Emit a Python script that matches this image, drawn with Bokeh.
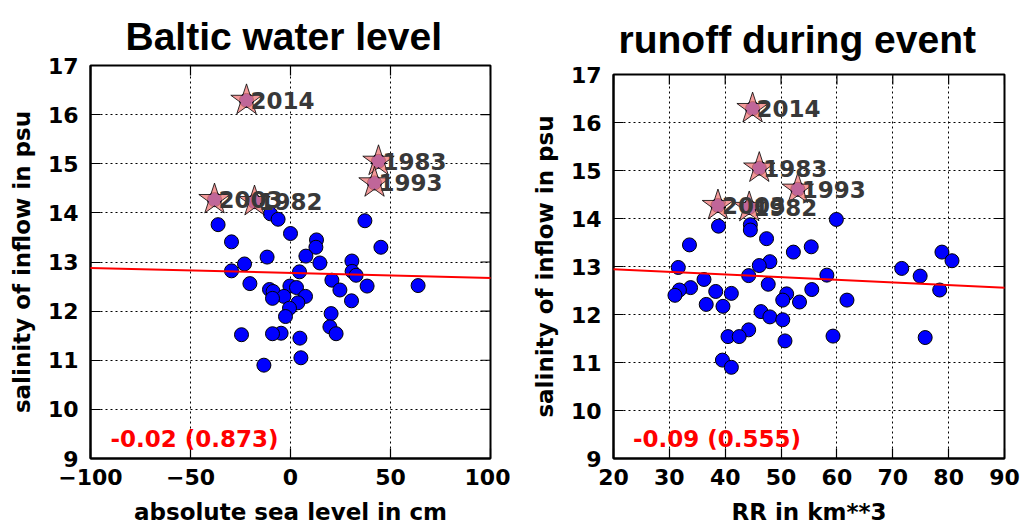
import math

from bokeh.plotting import figure
from bokeh.layouts import row
from bokeh.models import Slope, Label, FixedTicker, Range1d
from bokeh.core.properties import value
from bokeh.embed import file_html
from bokeh.resources import INLINE

# inflow events: salinity (psu), absolute sea level (cm), runoff RR (km**3)
salinity = [13.98, 13.87, 13.84, 13.76, 13.58, 13.45, 13.41, 13.30, 13.30, 13.12,
            13.10, 13.02, 12.98, 12.96, 12.82, 12.81, 12.80, 12.73, 12.63, 12.56,
            12.52, 12.51, 12.51, 12.48, 12.44, 12.43, 12.40, 12.30, 12.30, 12.26,
            12.21, 12.17, 12.06, 11.95, 11.89, 11.68, 11.55, 11.54, 11.54, 11.52,
            11.45, 11.05, 10.90]
sea_level = [-10, -6.2, 37.2, -36.2, 0, 13, -29.5, 12.7, 45.2, 7.7,
             -11.7, 30.7, 14.7, -23, -29.5, 30.8, 4.5, 32.8, 20.7, -20.3,
             63.8, 38.3, -0.3, 3, -10.5, 24.7, -8.7, -3.3, 7.5, -9,
             30.5, 3.7, -0.5, 20.3, -2.5, 19.7, -4.7, 22.8, -9, -24.5,
             4.7, 5.2, -13.3]
runoff = [59.9, 44.5, 38.8, 44.5, 47.4, 33.6, 55.4, 52.2, 78.8, 80.6,
          48.0, 46.1, 31.6, 71.6, 58.2, 44.2, 74.9, 36.2, 47.7, 33.8,
          55.5, 31.8, 78.4, 38.3, 41.1, 51.0, 31.0, 50.3, 61.8, 53.3,
          36.6, 39.6, 46.4, 48.0, 50.3, 44.2, 59.3, 40.5, 42.5, 75.8,
          50.7, 39.5, 41.1]

# the major inflows, marked with stars and labelled by year
years = ["1982", "1983", "1993", "2003", "2014"]
event_salinity = [14.23, 15.05, 14.61, 14.27, 16.29]
event_sea_level = [-18, 44, 42, -38, -22]
event_runoff = [44.3, 46.1, 53.0, 38.7, 44.9]

# linear fits (gradient, intercept) and correlation (p-value)
fit_sea_level = (-0.00101, 12.777)
fit_runoff = (-0.00546, 13.051)
corr_sea_level = "-0.02 (0.873)"
corr_runoff = "-0.09 (0.555)"

y_ticks = list(range(9, 18))
sea_ticks = [-100, -50, 0, 50, 100]
runoff_ticks = list(range(20, 100, 10))

TICK_FONT = "DejaVu Sans"
TITLE_FONT = "Liberation Sans"
TICK_LEN = 10


def style_axis(ax, ticks):
    ax.ticker = FixedTicker(ticks=ticks)
    ax.major_tick_in = TICK_LEN
    ax.major_tick_out = 0
    ax.major_tick_line_color = "black"
    ax.major_tick_line_width = 1.2
    ax.minor_tick_line_color = None
    ax.axis_line_color = "black"
    ax.axis_line_width = 2
    ax.major_label_text_font = TICK_FONT
    ax.major_label_text_font_style = "bold"
    ax.major_label_text_color = "black"
    ax.major_label_text_font_size = "22px"
    ax.axis_label_text_font = TICK_FONT
    ax.axis_label_text_font_style = "bold"
    ax.axis_label_text_font_size = "23px"
    ax.axis_label_text_color = "black"


def panel(title, xs, ev_x, x_range, x_ticks, x_label, fit, corr,
          width, left, right, top, bottom, title_offset, title_standoff):
    p = figure(width=width, height=527,
               x_range=Range1d(*x_range), y_range=Range1d(9, 17),
               output_backend="svg", toolbar_location=None,
               min_border_left=left, min_border_right=right,
               min_border_top=top, min_border_bottom=bottom)
    p.frame_align = False
    p.background_fill_color = "white"
    p.border_fill_color = "white"
    p.outline_line_color = "black"
    p.outline_line_width = 2
    x0, x1 = x_range

    p.title.text = title
    p.title.text_font = TITLE_FONT
    p.title.text_font_style = "bold"
    p.title.text_font_size = "39px"
    p.title.text_color = "black"
    p.title.align = "left"
    p.title.offset = title_offset
    p.title.standoff = title_standoff

    style_axis(p.xaxis[0], x_ticks)
    style_axis(p.yaxis[0], y_ticks)
    p.xaxis.axis_label = x_label
    p.yaxis.axis_label = "salinity of inflow in psu"
    p.xaxis.major_label_standoff = 10
    p.xaxis.axis_label_standoff = 11
    p.yaxis.major_label_standoff = 12
    p.yaxis.axis_label_standoff = 10
    p.xaxis.major_label_overrides = {t: str(t).replace("-", "\u2212")
                                     for t in x_ticks if t < 0}

    p.xgrid.ticker = FixedTicker(ticks=x_ticks)
    p.ygrid.ticker = FixedTicker(ticks=y_ticks)
    for g in (p.xgrid[0], p.ygrid[0]):
        g.grid_line_color = "black"
        g.grid_line_dash = "2 3"
        g.grid_line_width = 1

    # inward ticks along the top and right edges of the frame
    p.ray(x=x_ticks, y=[17] * len(x_ticks), length=TICK_LEN, length_units="screen",
          angle=-math.pi / 2, line_color="black", line_width=1.2)
    p.ray(x=[x1] * len(y_ticks), y=y_ticks, length=TICK_LEN, length_units="screen",
          angle=math.pi, line_color="black", line_width=1.2)

    p.add_layout(Slope(gradient=fit[0], y_intercept=fit[1],
                       line_color="red", line_width=2))

    # all events as blue dots, the major ones again as stars on top
    p.scatter(xs + ev_x, salinity + event_salinity, marker="circle", size=14,
              fill_color="blue", line_color="black", line_width=1)
    p.scatter(ev_x, event_salinity, marker="star", size=33,
              fill_color="lightcoral", fill_alpha=0.8,
              line_color="black", line_alpha=0.8, line_width=1)
    p.text(ev_x, event_salinity, text=years, x_offset=4,
           text_font=value(TICK_FONT), text_font_style="bold",
           text_font_size="23px", text_color="#383838",
           text_align="left", text_baseline="alphabetic")

    p.add_layout(Label(x=x0 + 0.05 * (x1 - x0), y=9 + 0.05 * 8, text=corr,
                       text_font=TICK_FONT, text_font_style="bold",
                       text_font_size="23px", text_color="red",
                       text_baseline="alphabetic"))
    return p


p1 = panel("Baltic water level", sea_level, event_sea_level, (-100, 100),
           sea_ticks, "absolute sea level in cm", fit_sea_level, corr_sea_level,
           width=510, left=90, right=20, top=65, bottom=67,
           title_offset=35, title_standoff=16)
p2 = panel("runoff during event", runoff, event_runoff, (20, 90),
           runoff_ticks, "RR in km**3", fit_runoff, corr_runoff,
           width=512, left=103, right=18, top=74, bottom=69,
           title_offset=5, title_standoff=28)

layout = row(p1, p2)
open("out.html", "w").write(file_html(layout, INLINE))
